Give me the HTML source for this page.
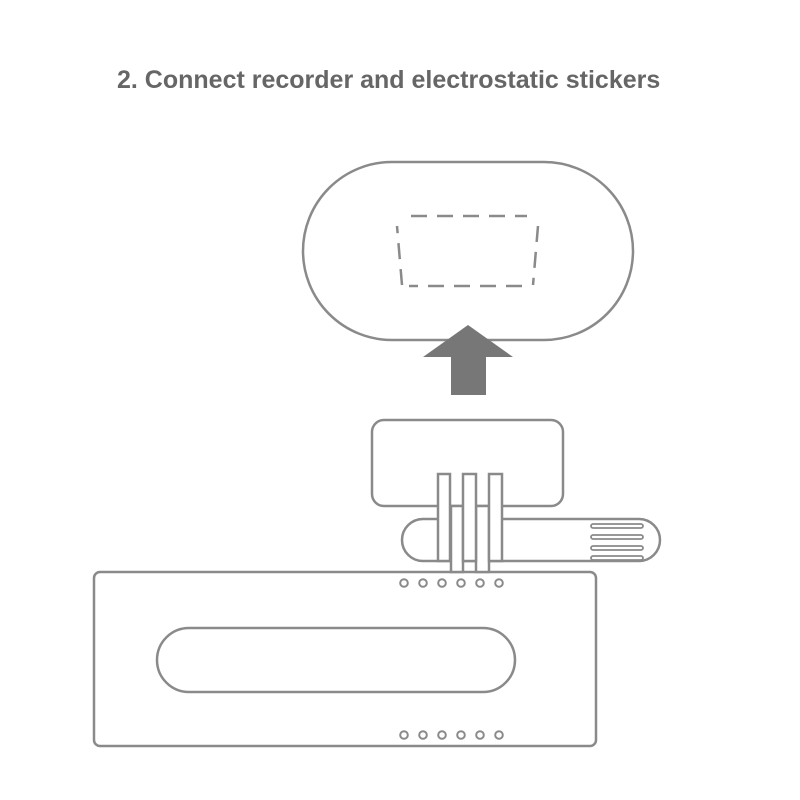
<!DOCTYPE html>
<html><head><style>
html,body{margin:0;padding:0;background:#fff;width:800px;height:800px;overflow:hidden}
.t{position:absolute;left:117px;top:66px;font:bold 25px "Liberation Sans",sans-serif;color:#666;white-space:nowrap}
</style></head><body>
<div class="t">2. Connect recorder and electrostatic stickers</div>
<svg width="800" height="800" style="position:absolute;left:0;top:0" fill="#fff" stroke="#8a8a8a" stroke-width="2.2">
<rect x="303" y="162" width="330" height="178" rx="89" stroke-width="2.5"/>
<path d="M411 216H527M538 226L533 285M522 286H409M402 285L397 226" stroke-dasharray="16 10" fill="none" stroke-width="2.5"/>
<polygon points="468,325 513,357 486,357 486,395 451,395 451,357 423,357" fill="#777" stroke="none"/>
<rect x="94" y="572" width="502" height="174" rx="6" stroke-width="2.5"/>
<rect x="157" y="628" width="358" height="64" rx="32" stroke-width="2.5"/>
<g stroke-width="2">
<circle cx="404" cy="583" r="3.8"/><circle cx="423" cy="583" r="3.8"/><circle cx="442" cy="583" r="3.8"/><circle cx="461" cy="583" r="3.8"/><circle cx="480" cy="583" r="3.8"/><circle cx="499" cy="583" r="3.8"/>
<circle cx="404" cy="735" r="3.8"/><circle cx="423" cy="735" r="3.8"/><circle cx="442" cy="735" r="3.8"/><circle cx="461" cy="735" r="3.8"/><circle cx="480" cy="735" r="3.8"/><circle cx="499" cy="735" r="3.8"/>
</g>
<rect x="372" y="420" width="191" height="86" rx="12" stroke-width="2.5"/>
<rect x="402" y="519" width="258" height="42" rx="21" stroke-width="2.5"/>
<g stroke-width="1.8">
<rect x="591" y="524" width="52" height="4" rx="2"/><rect x="591" y="535" width="52" height="4" rx="2"/><rect x="591" y="546" width="52" height="4" rx="2"/><rect x="591" y="556" width="52" height="4" rx="2"/>
</g>
<rect x="451" y="506" width="12" height="66" stroke-width="2.5"/>
<rect x="476" y="506" width="13" height="66" stroke-width="2.5"/>
<rect x="438" y="474" width="12" height="87" stroke-width="2.5"/>
<rect x="463" y="474" width="13" height="87" stroke-width="2.5"/>
<rect x="489" y="474" width="13" height="87" stroke-width="2.5"/>
</svg>
</body></html>
